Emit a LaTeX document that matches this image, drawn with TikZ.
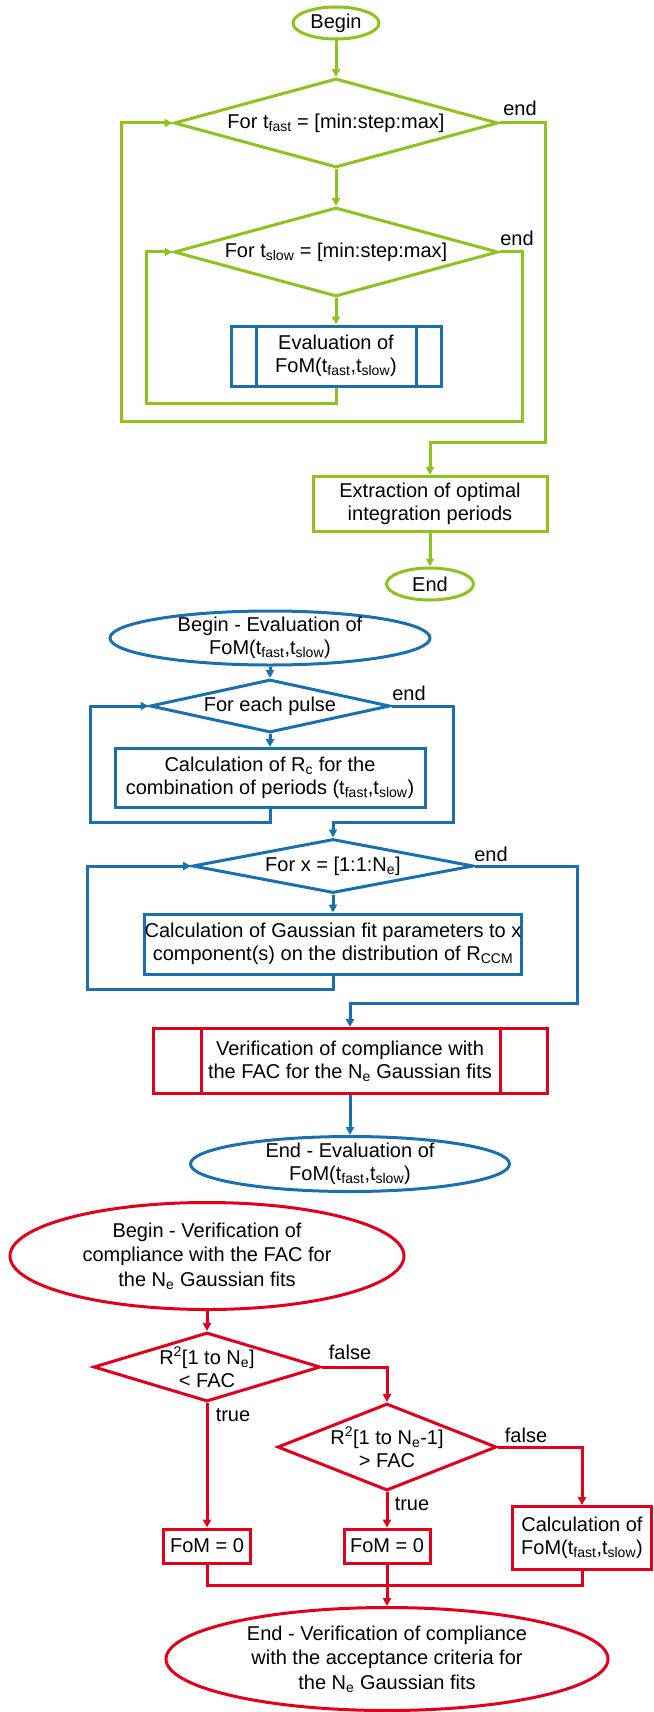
\documentclass[tikz,border=0pt]{standalone}
\usepackage{fontspec}
\setmainfont{Liberation Sans}
\usetikzlibrary{shapes.geometric,arrows.meta}
\definecolor{cg}{RGB}{141,194,31}
\definecolor{cb}{RGB}{26,111,175}
\definecolor{cr}{RGB}{227,0,27}
\newcommand{\subs}[1]{\textsubscript{#1}}
\begin{document}
\begin{tikzpicture}[x=1pt,y=-1pt,
  font=\fontsize{20}{23}\selectfont,
  line width=3pt,
  term/.style={ellipse, draw, inner xsep=-4pt, inner ysep=-8pt, align=center},
  dec/.style={diamond, draw, inner xsep=-6pt, inner ysep=-6pt, align=center},
  proc/.style={rectangle, draw, inner sep=0pt, align=center},
  lbl/.style={inner sep=0pt},
  arr/.style={-{Triangle[length=8pt,width=8pt]}}]
\useasboundingbox (0,0) rectangle (653,1712);

% ---------------- green part ----------------
\begin{scope}[cg]
\node[term, minimum width=86pt, minimum height=32pt, text=black] (begin) at (336,23) {Begin};
\node[dec, aspect=3.64, minimum width=324pt, minimum height=89pt, text=black] (d1) at (336,123) {For t\subs{fast} = [min:step:max]};
\node[dec, aspect=3.64, minimum width=324pt, minimum height=89pt, text=black] (d2) at (336,252) {For t\subs{slow} = [min:step:max]};
\node[proc, draw=cb, minimum width=210pt, minimum height=60pt, text=black] (eval) at (336,356) {Evaluation of\\FoM(t\subs{fast},t\subs{slow})};
\draw[cb] ([xshift=27pt]eval.north west) -- ([xshift=27pt]eval.south west);
\draw[cb] ([xshift=-26pt]eval.north east) -- ([xshift=-26pt]eval.south east);
\node[proc, minimum width=234pt, minimum height=55pt, text=black] (extr) at (430,504) {Extraction of optimal\\integration periods};
\node[term, minimum width=87pt, minimum height=32pt, text=black] (end) at (430,584) {End};
\node[lbl, text=black] (e1) at (520,108) {end};
\node[lbl, text=black] (e2) at (517,238) {end};

\draw[arr] (begin) -- (d1);
\draw[arr] (d1) -- (d2);
\draw[arr] (d2) -- (eval);
\draw[arr] (eval.south) |- (146,403) |- (d2.west);
\draw[arr] (d2.east) -| (522,421) -| (121,123) -- (d1.west);
\draw[arr] (d1.east) -| (545,442) -| (extr.north);
\draw[arr] (extr) -- (end);
\end{scope}

% ---------------- blue part ----------------
\begin{scope}[cb]
\node[term, minimum width=320pt, minimum height=54pt, text=black] (bbegin) at (270,638) {Begin - Evaluation of\\FoM(t\subs{fast},t\subs{slow})};
\node[dec, aspect=4.53, minimum width=240pt, minimum height=53pt, text=black] (d3) at (270,706) {For each pulse};
\node[proc, minimum width=310pt, minimum height=59pt, text=black] (rc) at (270,778) {Calculation of R\subs{c} for the\\combination of periods (t\subs{fast},t\subs{slow})};
\node[dec, aspect=5.2, minimum width=281pt, minimum height=54pt, text=black] (d4) at (333,866) {For x = [1:1:N\subs{e}]};
\node[proc, minimum width=377pt, minimum height=60pt, text=black] (gauss) at (333,944) {Calculation of Gaussian fit parameters to x\\component(s) on the distribution of R\subs{CCM}};
\node[proc, draw=cr, minimum width=394pt, minimum height=65pt, text=black] (verif) at (350,1061) {Verification of compliance with\\the FAC for the N\subs{e} Gaussian fits};
\draw[cr] ([xshift=50pt]verif.north west) -- ([xshift=50pt]verif.south west);
\draw[cr] ([xshift=-48pt]verif.north east) -- ([xshift=-48pt]verif.south east);
\node[term, minimum width=319pt, minimum height=55pt, text=black] (bend) at (350,1164) {End - Evaluation of\\FoM(t\subs{fast},t\subs{slow})};
\node[lbl, text=black] (e3) at (409,693) {end};
\node[lbl, text=black] (e4) at (491,854) {end};

\draw[arr] (bbegin) -- (d3);
\draw[arr] (d3) -- (rc);
\draw[arr] (rc.south) |- (90,822) |- (d3.west);
\draw[arr] (d3.east) -| (453,822) -| (d4.north);
\draw[arr] (d4) -- (gauss);
\draw[arr] (gauss.south) |- (87,989) |- (d4.west);
\draw[arr] (d4.east) -| (577,1003) -| (verif.north);
\draw[arr] (verif) -- (bend);
\end{scope}

% ---------------- red part ----------------
\begin{scope}[cr]
\node[term, font=\fontsize{20}{24.5}\selectfont, minimum width=394pt, minimum height=107pt, text=black] (rbegin) at (207,1256) {Begin - Verification of\\compliance with the FAC for\\the N\subs{e} Gaussian fits};
\node[dec, aspect=3.29, minimum width=227pt, minimum height=69pt, text=black] (d5) at (207,1367) {R\textsuperscript{2}[1 to N\subs{e}]\\< FAC};
\node[dec, aspect=2.52, minimum width=219pt, minimum height=87pt, text=black] (d6) at (387,1447) {R\textsuperscript{2}[1 to N\subs{e}-1]\\> FAC};
\node[proc, minimum width=87pt, minimum height=34pt, text=black] (fom1) at (207,1546) {FoM = 0};
\node[proc, minimum width=86pt, minimum height=34pt, text=black] (fom2) at (387,1546) {FoM = 0};
\node[proc, minimum width=139pt, minimum height=63pt, text=black] (calc) at (582,1538) {Calculation of\\FoM(t\subs{fast},t\subs{slow})};
\node[term, font=\fontsize{20}{24.5}\selectfont, minimum width=442pt, minimum height=103pt, text=black] (rend) at (387,1659) {End - Verification of compliance\\with the acceptance criteria for\\the N\subs{e} Gaussian fits};
\node[lbl, text=black] (f1) at (350,1352) {false};
\node[lbl, text=black] (t1) at (233,1415) {true};
\node[lbl, text=black] (f2) at (526,1435) {false};
\node[lbl, text=black] (t2) at (412,1504) {true};

\draw[arr] (rbegin) -- (d5);
\draw[arr] (d5.east) -| (d6.north);
\draw[arr] (d5.south) -- (fom1.north);
\draw[arr] (d6.east) -| (calc.north);
\draw[arr] (d6.south) -- (fom2.north);
\draw (fom1.south) |- (582,1585) -- (calc.south);
\draw[arr] (fom2.south) -- (rend.north);
\end{scope}
\end{tikzpicture}
\end{document}
